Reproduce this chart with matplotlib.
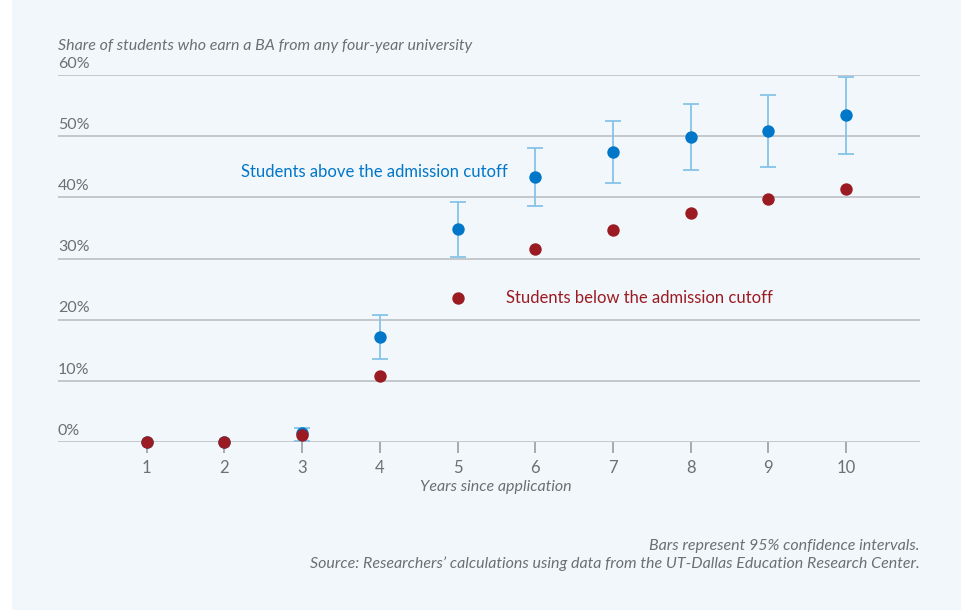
import numpy as np
import matplotlib.pyplot as plt
from matplotlib.patches import Rectangle

years = [1, 2, 3, 4, 5, 6, 7, 8, 9, 10]
above = [0.0, 0.0, 1.4, 17.1, 34.8, 43.4, 47.4, 49.9, 50.8, 53.4]
above_lo = [0.0, 0.0, 0.2, 13.6, 30.3, 38.6, 42.4, 44.4, 44.9, 47.1]
above_hi = [0.0, 0.0, 2.3, 20.7, 39.3, 48.1, 52.4, 55.3, 56.8, 59.7]
below = [0.0, 0.0, 1.1, 10.8, 23.5, 31.6, 34.6, 37.5, 39.8, 41.3]
yticks = [0, 10, 20, 30, 40, 50, 60]

BG = '#f2f7fb'
BLUE = '#0077c8'
BLUE_LT = '#86c3e8'
RED = '#9b1b22'
GREY = '#6d7072'
GRID = '#bcc0c4'

plt.rcParams['font.family'] = ['Lato', 'DejaVu Sans']

fig = plt.figure(figsize=(9.62, 6.1), dpi=100)
fig.patch.set_facecolor('white')
fig.patches.append(Rectangle((12 / 962, 0), 1, 1, transform=fig.transFigure,
                             facecolor=BG, edgecolor='none', zorder=-10))

ax = fig.add_axes([58 / 962, 1 - 442 / 610, (920 - 58) / 962, (442 - 75) / 610])
ax.set_zorder(5)
ax.set_facecolor('none')
ax.set_xlim(-0.14, 10.95)
ax.set_ylim(0, 60)

for t in yticks:
    ax.axhline(t, color=GRID, lw=1.2, zorder=1)
    ax.text(0, t + 0.7, f'{t}%', transform=ax.get_yaxis_transform(),
            ha='left', va='bottom', fontsize=11.5, color=GREY)

for s in ax.spines.values():
    s.set_visible(False)
ax.set_yticks([])
ax.set_xticks(years)
ax.set_xticklabels([str(y) for y in years])
ax.tick_params(axis='x', length=8, width=1.2, color='#9a9da0', labelcolor=GREY,
               labelsize=12, pad=5)

a = np.array(above)
err = np.vstack([a - np.array(above_lo), np.array(above_hi) - a])
idx = slice(2, None)
ax.errorbar(np.array(years)[idx], a[idx], yerr=err[:, idx], fmt='none',
            ecolor=BLUE_LT, elinewidth=1.3, capsize=6, capthick=1.3, zorder=2, clip_on=False)
ax.scatter(years, above, s=80, color=BLUE, zorder=3, clip_on=False, linewidths=0)
ax.scatter(years, below, s=80, color=RED, zorder=4, clip_on=False, linewidths=0)

ax.text(2.21, 44.2, 'Students above the admission cutoff', color=BLUE,
        fontsize=12, va='center', ha='left')
ax.text(5.62, 23.6, 'Students below the admission cutoff', color=RED,
        fontsize=12, va='center', ha='left')

fig.text(58 / 962, 1 - 46 / 610, 'Share of students who earn a BA from any four-year university',
         style='italic', fontsize=11.5, color=GREY, ha='left', va='center')
fig.text(496 / 962, 1 - 487 / 610, 'Years since application', style='italic',
         fontsize=11.5, color=GREY, ha='center', va='center')
fig.text(920 / 962, 1 - 546 / 610, 'Bars represent 95% confidence intervals.',
         style='italic', fontsize=11.5, color=GREY, ha='right', va='center')
fig.text(920 / 962, 1 - 564 / 610,
         'Source: Researchers\u2019 calculations using data from the UT-Dallas Education Research Center.',
         style='italic', fontsize=11.5, color=GREY, ha='right', va='center')

fig.savefig('out.png', dpi=100, facecolor='white')
